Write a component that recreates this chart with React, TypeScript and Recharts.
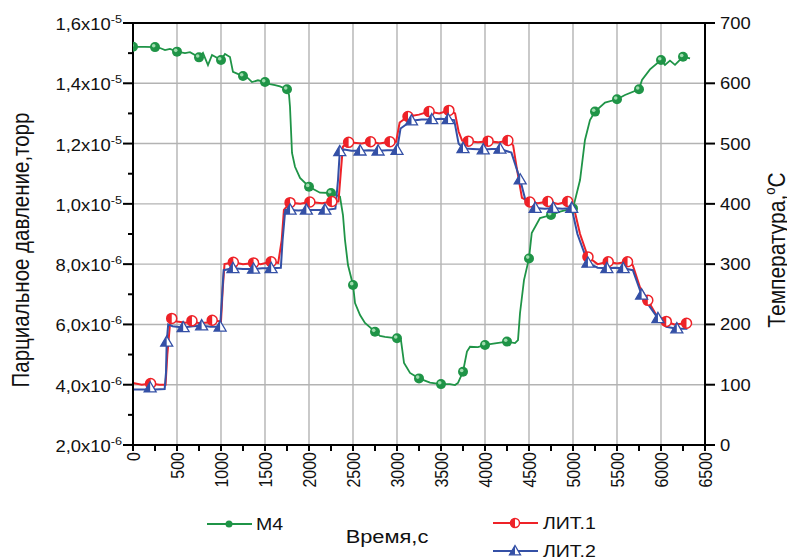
import React from 'react';
import { LineChart, Line, XAxis, YAxis, CartesianGrid, ReferenceLine } from 'recharts';

// M4 partial pressure, units of 1e-6 torr (left axis)
const m4Time = [0, 136, 250, 307, 364, 420, 500, 591, 648, 750, 795, 852, 898, 1000, 1045, 1102, 1136, 1250, 1307, 1352, 1420, 1500, 1557, 1614, 1670, 1750, 1773, 1784, 1807, 1841, 1898, 2000, 2068, 2125, 2250, 2352, 2386, 2409, 2443, 2500, 2523, 2580, 2636, 2750, 2807, 2864, 3000, 3045, 3080, 3148, 3250, 3375, 3500, 3602, 3659, 3693, 3750, 3795, 3830, 3920, 4000, 4114, 4250, 4341, 4375, 4398, 4443, 4500, 4531, 4625, 4750, 4852, 5000, 5080, 5136, 5193, 5250, 5364, 5500, 5591, 5750, 5784, 5875, 6000, 6045, 6102, 6159, 6250, 6330];
const m4Pressure = [15.21, 15.21, 15.2, 15.17, 15.1, 15.14, 15.05, 15.0, 15.03, 14.86, 15.01, 14.6, 14.94, 14.77, 14.97, 14.87, 14.38, 14.24, 14.17, 14.04, 14.1, 14.04, 13.97, 13.94, 13.9, 13.8, 13.61, 13.22, 11.69, 11.23, 10.86, 10.57, 10.46, 10.37, 10.36, 10.24, 9.63, 8.8, 7.97, 7.31, 6.71, 6.31, 6.05, 5.76, 5.62, 5.59, 5.54, 5.48, 4.72, 4.39, 4.21, 4.07, 4.02, 4.02, 3.99, 4.06, 4.43, 5.1, 5.26, 5.25, 5.32, 5.37, 5.43, 5.38, 5.48, 6.38, 7.47, 8.19, 9.03, 9.53, 9.63, 9.74, 9.85, 10.79, 12.12, 12.78, 13.06, 13.36, 13.47, 13.61, 13.8, 14.11, 14.46, 14.77, 14.61, 14.75, 14.61, 14.88, 14.83];
const m4Markers = [0, 250, 500, 750, 1000, 1250, 1500, 1750, 2000, 2250, 2500, 2750, 3000, 3250, 3500, 3750, 4000, 4250, 4500, 4750, 5000, 5250, 5500, 5750, 6000, 6250];

// ЛИТ.1 temperature, °C (right axis)
const lit1Time = [0, 100, 200, 300, 370, 390, 420, 440, 500, 600, 670, 750, 850, 900, 1000, 1020, 1040, 1140, 1250, 1370, 1450, 1570, 1650, 1690, 1715, 1785, 1900, 2010, 2150, 2260, 2335, 2360, 2385, 2450, 2600, 2700, 2800, 2920, 2990, 3030, 3125, 3250, 3365, 3480, 3590, 3660, 3700, 3740, 3810, 3920, 4035, 4150, 4260, 4320, 4360, 4420, 4510, 4600, 4715, 4830, 4940, 5000, 5080, 5170, 5280, 5400, 5500, 5620, 5680, 5760, 5850, 5950, 6060, 6150, 6290];
const lit1Temp = [103, 100, 102, 100, 100, 150, 200, 210, 205, 203, 206, 202, 203, 207, 205, 260, 300, 303, 300, 302, 300, 304, 302, 340, 390, 402, 400, 403, 401, 404, 404, 450, 495, 502, 500, 503, 500, 503, 503, 535, 545, 548, 553, 550, 555, 550, 520, 505, 504, 502, 504, 502, 505, 497, 460, 410, 403, 401, 404, 400, 404, 400, 350, 312, 300, 304, 301, 304, 298, 262, 240, 215, 205, 200, 202];
const lit1Markers = [200, 440, 670, 900, 1140, 1370, 1570, 1785, 2010, 2260, 2450, 2700, 2920, 3125, 3365, 3590, 3810, 4035, 4260, 4510, 4715, 4940, 5170, 5400, 5620, 5850, 6060, 6290];

// ЛИТ.2 temperature, °C (right axis)
const lit2Time = [0, 150, 195, 250, 360, 375, 383, 400, 450, 570, 680, 780, 880, 990, 1005, 1030, 1136, 1250, 1370, 1470, 1570, 1680, 1700, 1730, 1785, 1880, 1970, 2080, 2180, 2300, 2330, 2350, 2400, 2480, 2580, 2680, 2785, 2890, 3000, 3040, 3165, 3280, 3395, 3500, 3580, 3650, 3700, 3750, 3860, 3980, 4080, 4170, 4300, 4400, 4470, 4570, 4680, 4775, 4880, 4985, 5050, 5170, 5280, 5385, 5480, 5570, 5680, 5780, 5870, 5965, 6060, 6180, 6300];
const lit2Temp = [92, 92, 95, 92, 93, 120, 171, 200, 197, 195, 197, 198, 196, 196, 230, 290, 293, 292, 292, 293, 293, 294, 340, 390, 390, 389, 390, 390, 390, 392, 440, 487, 490, 488, 488, 489, 488, 489, 489, 525, 538, 540, 540, 541, 540, 539, 500, 492, 491, 490, 491, 491, 485, 440, 400, 393, 392, 393, 392, 393, 350, 302, 294, 293, 294, 293, 290, 249, 230, 210, 196, 193, 193];
const lit2Markers = [195, 383, 570, 780, 990, 1136, 1370, 1570, 1785, 1970, 2180, 2350, 2580, 2785, 3000, 3165, 3395, 3580, 3750, 3980, 4170, 4400, 4570, 4775, 4985, 5170, 5385, 5570, 5780, 5965, 6180];

const xTicks = [0, 250, 500, 750, 1000, 1250, 1500, 1750, 2000, 2250, 2500, 2750, 3000, 3250, 3500, 3750, 4000, 4250, 4500, 4750, 5000, 5250, 5500, 5750, 6000, 6250, 6500];
const xGrid = [500, 1000, 1500, 2000, 2500, 3000, 3500, 4000, 4500, 5000, 5500, 6000];
const pTicks = [2, 3, 4, 5, 6, 7, 8, 9, 10, 11, 12, 13, 14, 15, 16];
const pGrid = [4, 6, 8, 10, 12, 14];
const tTicks = [0, 100, 200, 300, 400, 500, 600, 700];

const GREEN = '#1f9447';
const RED = '#ee2228';
const BLUE = '#3450a6';
const FONT = '"Liberation Sans", Arial, sans-serif';
const SX = 1.15; // the original figure is a bit wider than tall

const build = (time: number[], vals: number[], marks: number[]) =>
  time.map((t, i) => ({ t, v: vals[i], marker: marks.includes(t) }));

const m4Data = build(m4Time, m4Pressure, m4Markers);
const lit1Data = build(lit1Time, lit1Temp, lit1Markers);
const lit2Data = build(lit2Time, lit2Temp, lit2Markers);

function GreenDot({ cx, cy }: any) {
  return (
    <g>
      <circle cx={cx} cy={cy} r={5} fill={GREEN} />
      <circle cx={cx - 1.3} cy={cy - 1.3} r={1.8} fill="#9fdcae" />
    </g>
  );
}

function HalfCircle({ cx, cy, r = 5 }: any) {
  return (
    <g>
      <circle cx={cx} cy={cy} r={r} fill="#fff" stroke={RED} strokeWidth={1.5} />
      <path d={`M${cx},${cy - r} A${r},${r} 0 0 0 ${cx},${cy + r} Z`} fill={RED} />
    </g>
  );
}

function HalfTriangle({ cx, cy, s = 6 }: any) {
  return (
    <g>
      <polygon
        points={`${cx},${cy - s} ${cx - s},${cy + s * 0.7} ${cx + s},${cy + s * 0.7}`}
        fill="#fff"
        stroke={BLUE}
        strokeWidth={1.3}
      />
      <polygon points={`${cx},${cy - s} ${cx - s},${cy + s * 0.7} ${cx},${cy + s * 0.7}`} fill={BLUE} />
    </g>
  );
}

const dotIf = (Shape: any) => (props: any) =>
  props.payload.marker ? (
    <Shape key={`d-${props.index}`} cx={props.cx} cy={props.cy} />
  ) : (
    <g key={`d-${props.index}`} />
  );

function XTick({ x, y, payload }: any) {
  const v = payload.value;
  if (v % 500 !== 0) {
    return <line x1={x} x2={x} y1={y} y2={y + 6} stroke="#000" strokeWidth={2} />;
  }
  return (
    <g>
      <line x1={x} x2={x} y1={y} y2={y + 6} stroke="#000" strokeWidth={2} />
      <text
        transform={`translate(${x},${y + 7}) scale(${SX},1) rotate(-90)`}
        textAnchor="end"
        dy="0.36em"
        fontSize={16}
        fontFamily={FONT}
        fill="#111"
      >
        {v}
      </text>
    </g>
  );
}

function LeftTick({ x, y, payload }: any) {
  const v = payload.value;
  if (v % 2 !== 0) {
    return <line x1={x - 5} x2={x} y1={y} y2={y} stroke="#000" strokeWidth={2} />;
  }
  const mant = (v >= 10 ? v / 10 : v).toFixed(1).replace('.', ',');
  const exp = v >= 10 ? '-5' : '-6';
  return (
    <g>
      <line x1={x - 10} x2={x} y1={y} y2={y} stroke="#000" strokeWidth={2} />
      <text
        transform={`translate(${x - 11},${y + 7}) scale(${SX},1)`}
        textAnchor="end"
        fontSize={16}
        fontFamily={FONT}
        fill="#111"
      >
        {mant}x10
        <tspan fontSize={11} dy={-7}>
          {exp}
        </tspan>
      </text>
    </g>
  );
}

function RightTick({ x, y, payload }: any) {
  return (
    <g>
      <line x1={x} x2={x + 10} y1={y} y2={y} stroke="#000" strokeWidth={2} />
      <text
        transform={`translate(${x + 15},${y + 6}) scale(${SX},1)`}
        textAnchor="start"
        fontSize={16}
        fontFamily={FONT}
        fill="#111"
      >
        {payload.value}
      </text>
    </g>
  );
}

const W = 787;
const H = 552;

export default function App() {
  return (
    <div style={{ position: 'relative', width: W, height: H, fontFamily: FONT }}>
      <LineChart width={W} height={H} margin={{ top: 15, right: 0, bottom: 0, left: 0 }}>
        <CartesianGrid
          yAxisId="p"
          stroke="#b3b3b3"
          strokeWidth={1.4}
          verticalValues={xGrid}
          horizontalValues={pGrid}
        />
        <XAxis
          dataKey="t"
          type="number"
          domain={[0, 6500]}
          ticks={xTicks}
          interval={0}
          allowDataOverflow
          height={115}
          tickSize={0}
          tickMargin={0}
          tickLine={false}
          tick={<XTick />}
          axisLine={{ stroke: '#000', strokeWidth: 2 }}
        />
        <YAxis
          yAxisId="p"
          type="number"
          domain={[2, 16]}
          ticks={pTicks}
          interval={0}
          allowDataOverflow
          width={125}
          tickSize={0}
          tickMargin={0}
          tickLine={false}
          tick={<LeftTick />}
          axisLine={{ stroke: '#000', strokeWidth: 2 }}
        />
        <YAxis
          yAxisId="t"
          orientation="right"
          type="number"
          domain={[0, 700]}
          ticks={tTicks}
          interval={0}
          allowDataOverflow
          width={90}
          tickSize={0}
          tickMargin={0}
          tickLine={false}
          tick={<RightTick />}
          axisLine={{ stroke: '#000', strokeWidth: 2 }}
        />
        <ReferenceLine yAxisId="p" y={16} stroke="#000" strokeWidth={2} />
        <Line
          yAxisId="p"
          data={m4Data}
          dataKey="v"
          type="linear"
          stroke={GREEN}
          strokeWidth={1.8}
          dot={dotIf(GreenDot)}
          activeDot={false}
          isAnimationActive={false}
        />
        <Line
          yAxisId="t"
          data={lit1Data}
          dataKey="v"
          type="linear"
          stroke={RED}
          strokeWidth={2}
          dot={dotIf(HalfCircle)}
          activeDot={false}
          isAnimationActive={false}
        />
        <Line
          yAxisId="t"
          data={lit2Data}
          dataKey="v"
          type="linear"
          stroke={BLUE}
          strokeWidth={2}
          dot={dotIf(HalfTriangle)}
          activeDot={false}
          isAnimationActive={false}
        />
      </LineChart>
      <svg
        width={W}
        height={H}
        style={{ position: 'absolute', left: 0, top: 0, pointerEvents: 'none' }}
        fontFamily={FONT}
      >
        <text
          transform={`translate(21,242) scale(${SX},1) rotate(-90)`}
          textAnchor="middle"
          fontSize={20.5}
          fill="#111"
        >
          Парциальное давление,торр
        </text>
        <text
          transform={`translate(777,242) scale(${SX},1) rotate(-90)`}
          textAnchor="middle"
          fontSize={21}
          fill="#111"
        >
          Температура,<tspan fontSize={13} dy={-9}>o</tspan>
          <tspan dy={9}>C</tspan>
        </text>
        <text transform={`translate(379,535) scale(${SX},1)`} textAnchor="middle" fontSize={19} fill="#111">
          Время,с
        </text>

        <line x1={199} x2={244} y1={516} y2={516} stroke={GREEN} strokeWidth={1.8} />
        <circle cx={221} cy={516} r={3.5} fill={GREEN} />
        <text transform={`translate(248,522) scale(${SX},1)`} fontSize={17} fill="#111">
          M4
        </text>

        <line x1={485} x2={530} y1={515} y2={515} stroke={RED} strokeWidth={2} />
        <HalfCircle cx={507} cy={515} r={4.5} />
        <text transform={`translate(535,521) scale(${SX},1)`} fontSize={17} fill="#111">
          ЛИТ.1
        </text>

        <line x1={485} x2={530} y1={543} y2={543} stroke={BLUE} strokeWidth={2} />
        <HalfTriangle cx={507} cy={543} s={5.5} />
        <text transform={`translate(535,549) scale(${SX},1)`} fontSize={17} fill="#111">
          ЛИТ.2
        </text>
      </svg>
    </div>
  );
}
